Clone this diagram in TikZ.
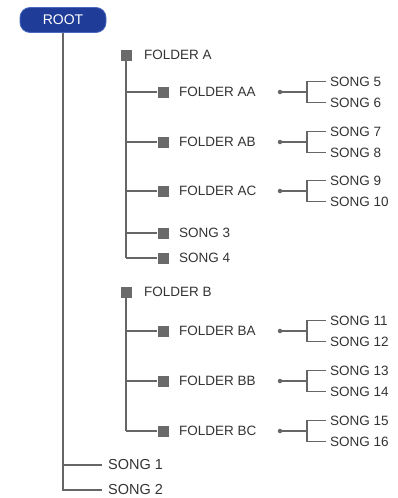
\documentclass[tikz,border=0pt]{standalone}
\usepackage{fontspec}
\setmainfont{Liberation Sans}
\definecolor{rootblue}{HTML}{1F3C98}
\definecolor{rootedge}{HTML}{4A68C0}
\definecolor{ln}{HTML}{666666}
\definecolor{tx}{HTML}{333333}
\definecolor{sqc}{HTML}{6A6A6A}
\tikzset{
  link/.style={draw=ln, line width=1.3pt},
  sqnode/.style={fill=sqc, minimum size=11pt, inner sep=0pt},
  lbl/.style={anchor=west, text=tx, font=\fontsize{13.5}{14}\selectfont, inner sep=0pt},
  songlbl/.style={anchor=west, text=tx, font=\fontsize{13.5}{14}\selectfont, inner xsep=4pt, inner ysep=0pt},
  topsong/.style={anchor=west, text=tx, font=\fontsize{14.5}{15}\selectfont, inner xsep=6pt, inner ysep=0pt},
  dotnode/.style={circle, fill=ln, minimum size=4.5pt, inner sep=0pt},
  rootbox/.style={fill=rootblue, draw=rootedge, line width=0.8pt, rounded corners=10pt, minimum width=86pt, minimum height=25pt, text=white, font=\fontsize{14}{15}\selectfont, inner sep=0pt}
}
\newcommand\subfold[6]{%
  \node[sqnode] (#1sq) at (163,#2) {};
  \node[lbl] (#1lb) at (179,#2) {#3};
  \node[dotnode] (#1dot) at (280,#2) {};
  \coordinate (#1br) at (307,#2);
  \node[songlbl] (#1s1) at (326,#2-10.5) {#4};
  \node[songlbl] (#1s2) at (326,#2+10.5) {#5};
  \draw[link] (#1dot) -- (#1br);
  \draw[link] (#1s1.west) -| (#1br) |- (#1s2.west);
  \draw[link] (#6sq |- #1sq) -- (#1sq.west);
}
\newcommand\subsong[4]{%
  \node[sqnode] (#1sq) at (163,#2) {};
  \node[lbl] (#1lb) at (179,#2) {#3};
  \draw[link] (#4sq |- #1sq) -- (#1sq.west);
}
\begin{document}
\begin{tikzpicture}[x=1pt,y=-1pt]
\useasboundingbox (0,0) rectangle (397,498);
% root
\node[rootbox] (root) at (63,20) {ROOT};
\node[topsong] (t1) at (102,465) {SONG 1};
\node[topsong] (t2) at (102,490) {SONG 2};
\draw[link] (root.south) |- (t2.west);
\draw[link] (root.south |- t1) -- (t1.west);
% folder A
\node[sqnode] (Asq) at (126,55) {};
\node[lbl] (Alb) at (144,55) {FOLDER A};
\subfold{AA}{92}{FOLDER AA}{SONG 5}{SONG 6}{A}
\subfold{AB}{142}{FOLDER AB}{SONG 7}{SONG 8}{A}
\subfold{AC}{191}{FOLDER AC}{SONG 9}{SONG 10}{A}
\subsong{S3}{233}{SONG 3}{A}
\subsong{S4}{258}{SONG 4}{A}
\draw[link] (Asq.south) -- (Asq |- S4sq);
% folder B
\node[sqnode] (Bsq) at (126,292) {};
\node[lbl] (Blb) at (144,292) {FOLDER B};
\subfold{BA}{331}{FOLDER BA}{SONG 11}{SONG 12}{B}
\subfold{BB}{381}{FOLDER BB}{SONG 13}{SONG 14}{B}
\subfold{BC}{431}{FOLDER BC}{SONG 15}{SONG 16}{B}
\draw[link] (Bsq.south) -- (Bsq |- BCsq);
\end{tikzpicture}
\end{document}
